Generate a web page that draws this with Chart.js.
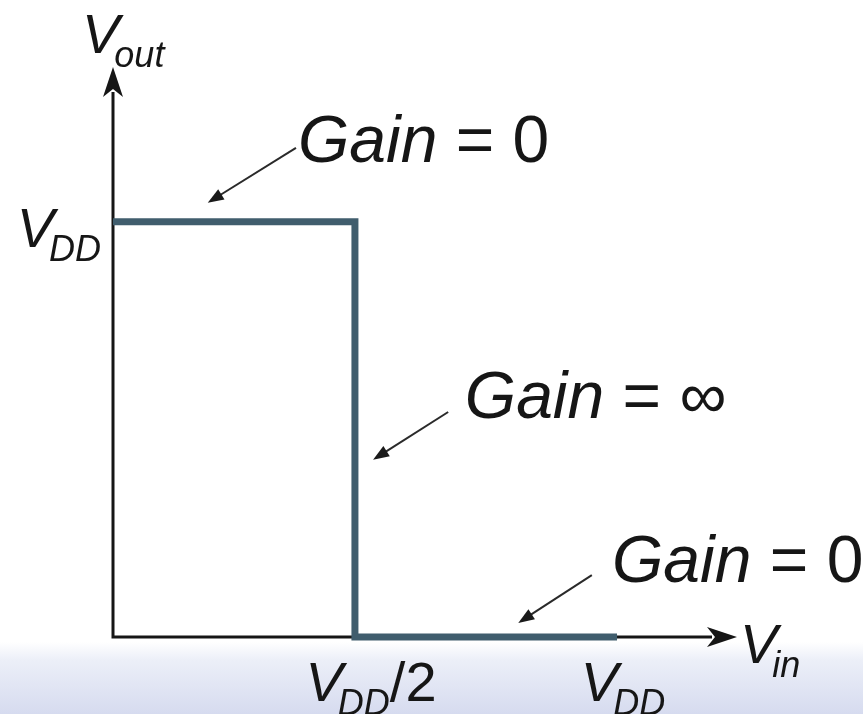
<!DOCTYPE html>
<html>
<head>
<meta charset="utf-8">
<script src="https://cdn.jsdelivr.net/npm/chart.js@4.4.1/dist/chart.umd.min.js"></script>
<style>
    body { margin: 0; background: #fff; }
    #wrap { width: 863px; height: 714px; }
</style>
</head>
<body>
<div id="wrap"><canvas id="graph"></canvas></div>
<script>
// Curva de transferência (Vin / VDD, Vout / VDD)
var vinValues = [0, 0.48, 0.48, 1.0];
var voutValues = [1, 1, 0, 0];

// Rótulos dos eixos (com subscrito)
var xTickValues = [0.5, 1];
var xTickLabels = [['V', 'DD', '/2'], ['V', 'DD', '']];
var yTickValues = [1];
var yTickLabels = [['V', 'DD', '']];
var gainLabels = ['0', '\u221E', '0'];

var FONT = '"Liberation Sans", Arial, sans-serif';
var ink = '#161616';
var curveColor = '#405d6d';

var points = vinValues.map(function(v, i) { return {x: v, y: voutValues[i]}; });

// desenha V com subscrito
function drawSub(ctx, x, y, parts, align) {
    var mainFont = 'italic 56px ' + FONT;
    var subFont = 'italic 36px ' + FONT;
    var tailFont = '56px ' + FONT;
    ctx.font = mainFont; var w1 = ctx.measureText(parts[0]).width;
    ctx.font = subFont; var w2 = ctx.measureText(parts[1]).width;
    ctx.font = tailFont; var w3 = ctx.measureText(parts[2]).width;
    var kern = -5;
    var total = w1 + kern + w2 + w3;
    var x0 = x;
    if (align === 'center') x0 = x - total / 2;
    if (align === 'right') x0 = x - total;
    ctx.fillStyle = ink;
    ctx.textBaseline = 'alphabetic';
    ctx.textAlign = 'left';
    ctx.font = mainFont; ctx.fillText(parts[0], x0, y);
    ctx.font = subFont; ctx.fillText(parts[1], x0 + w1 + kern, y + 14);
    ctx.font = tailFont; ctx.fillText(parts[2], x0 + w1 + kern + w2, y);
}

function drawGain(ctx, x, y, val) {
    ctx.fillStyle = ink;
    ctx.textBaseline = 'alphabetic';
    ctx.textAlign = 'left';
    ctx.font = 'italic 66px ' + FONT;
    ctx.fillText('Gain', x, y);
    var w = ctx.measureText('Gain ').width;
    ctx.font = '66px ' + FONT;
    ctx.fillText('= ' + val, x + w, y);
}

function thinArrow(ctx, x1, y1, x2, y2) {
    var a = Math.atan2(y2 - y1, x2 - x1);
    var L = 16, H = 6;
    ctx.strokeStyle = '#2a2a2a';
    ctx.lineWidth = 2;
    ctx.beginPath();
    ctx.moveTo(x1, y1);
    ctx.lineTo(x2 - Math.cos(a) * L * 0.8, y2 - Math.sin(a) * L * 0.8);
    ctx.stroke();
    ctx.fillStyle = '#1a1a1a';
    ctx.beginPath();
    ctx.moveTo(x2, y2);
    ctx.lineTo(x2 - Math.cos(a) * L - Math.sin(a) * H, y2 - Math.sin(a) * L + Math.cos(a) * H);
    ctx.lineTo(x2 - Math.cos(a) * L + Math.sin(a) * H, y2 - Math.sin(a) * L - Math.cos(a) * H);
    ctx.closePath();
    ctx.fill();
}

function axisHead(ctx, tx, ty, dx, dy) {
    var L = 30, H = 10, notch = 22;
    var px = -dy, py = dx;
    ctx.fillStyle = ink;
    ctx.beginPath();
    ctx.moveTo(tx, ty);
    ctx.lineTo(tx - dx * L + px * H, ty - dy * L + py * H);
    ctx.lineTo(tx - dx * notch, ty - dy * notch);
    ctx.lineTo(tx - dx * L - px * H, ty - dy * L - py * H);
    ctx.closePath();
    ctx.fill();
}

var diagram = {
    id: 'diagram',
    beforeDraw: function(chart) {
        var ctx = chart.ctx;
        ctx.save();
        ctx.fillStyle = '#ffffff';
        ctx.fillRect(0, 0, chart.width, chart.height);
        var g = ctx.createLinearGradient(0, 642, 0, chart.height);
        g.addColorStop(0, '#ffffff');
        g.addColorStop(0.25, '#eceff8');
        g.addColorStop(1, '#d6dbef');
        ctx.fillStyle = g;
        ctx.fillRect(0, 642, chart.width, chart.height - 642);
        ctx.restore();
    },
    beforeDatasetsDraw: function(chart) {
        var ctx = chart.ctx, a = chart.chartArea;
        ctx.save();
        ctx.strokeStyle = ink;
        ctx.lineWidth = 3;
        ctx.beginPath();
        ctx.moveTo(a.left, a.top + 25);
        ctx.lineTo(a.left, a.bottom);
        ctx.lineTo(a.right - 25, a.bottom);
        ctx.stroke();
        axisHead(ctx, a.left, a.top, 0, -1);
        axisHead(ctx, a.right, a.bottom, 1, 0);
        ctx.restore();
    },
    afterDraw: function(chart) {
        var ctx = chart.ctx, a = chart.chartArea;
        var xs = chart.scales.x, ys = chart.scales.y;
        ctx.save();
        // títulos dos eixos
        drawSub(ctx, a.left - 31, a.top - 14, ['V', 'out', ''], 'left');
        drawSub(ctx, a.right + 3, a.bottom + 26, ['V', 'in', ''], 'left');
        // ticks
        xTickValues.forEach(function(v, i) {
            drawSub(ctx, xs.getPixelForValue(v) + 6, a.bottom + 64, xTickLabels[i], 'center');
        });
        yTickValues.forEach(function(v, i) {
            drawSub(ctx, a.left - 12, ys.getPixelForValue(v) + 25, yTickLabels[i], 'right');
        });
        // anotações de ganho
        var notes = [
            {tx: 0.367, ty: 1.145, ax: 0.363, ay: 1.178, bx: 0.188, by: 1.046},
            {tx: 0.698, ty: 0.528, ax: 0.665, ay: 0.542, bx: 0.516, by: 0.427},
            {tx: 0.990, ty: 0.133, ax: 0.950, ay: 0.149, bx: 0.804, by: 0.034}
        ];
        notes.forEach(function(n, i) {
            drawGain(ctx, xs.getPixelForValue(n.tx), ys.getPixelForValue(n.ty), gainLabels[i]);
            thinArrow(ctx, xs.getPixelForValue(n.ax), ys.getPixelForValue(n.ay),
                xs.getPixelForValue(n.bx), ys.getPixelForValue(n.by));
        });
        ctx.restore();
    }
};

var ctx = document.getElementById('graph').getContext('2d');
var chart = new Chart(ctx, {
    type: 'scatter',
    data: {
        datasets: [{
            label: 'Vout',
            data: points,
            showLine: true,
            clip: false,
            borderColor: curveColor,
            backgroundColor: curveColor,
            borderWidth: 7,
            borderJoinStyle: 'miter',
            borderCapStyle: 'butt',
            pointRadius: 0,
            tension: 0
        }]
    },
    options: {
        responsive: true,
        maintainAspectRatio: false,
        animation: false,
        layout: { padding: { left: 113, right: 126, top: 67, bottom: 77 } },
        plugins: { legend: { display: false }, tooltip: { enabled: false } },
        scales: {
            x: { type: 'linear', min: 0, max: 1.238, display: false },
            y: { type: 'linear', min: 0, max: 1.373, display: false }
        }
    },
    plugins: [diagram]
});
</script>
</body>
</html>
